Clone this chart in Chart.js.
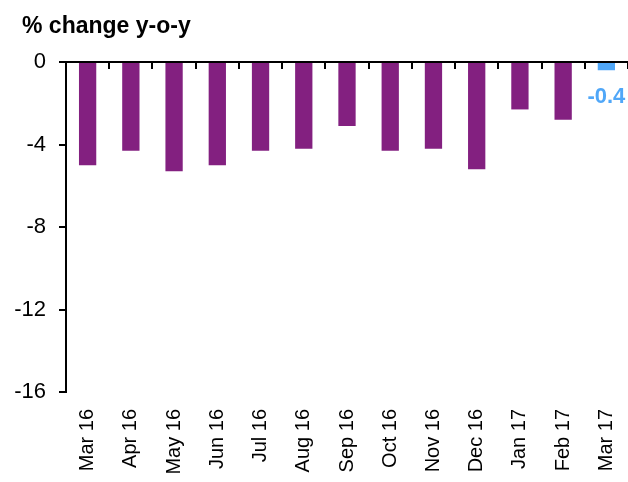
<!DOCTYPE html>
<html>
<head>
<meta charset="utf-8">
<script src="https://cdn.jsdelivr.net/npm/chart.js@4"></script>
<style>
  html, body { margin: 0; padding: 0; background: #ffffff; }
  #wrap { width: 628px; height: 482px; position: relative; }
</style>
</head>
<body>
<div id="wrap"><canvas id="c"></canvas></div>
<script>
const categories = ["Mar 16", "Apr 16", "May 16", "Jun 16", "Jul 16", "Aug 16", "Sep 16", "Oct 16", "Nov 16", "Dec 16", "Jan 17", "Feb 17", "Mar 17"];
const values = [-5.0, -4.3, -5.3, -5.0, -4.3, -4.2, -3.1, -4.3, -4.2, -5.2, -2.3, -2.8, -0.4];
const yTicks = [0, -4, -8, -12, -16];
const titleText = "% change y-o-y";
const highlightIndex = values.length - 1;

const PURPLE = "#832080";
const BLUE = "#50a7f8";
const FONT = "Arial, 'Liberation Sans', sans-serif";

const barColors = values.map((v, i) => i === highlightIndex ? BLUE : PURPLE);

const valueLabelPlugin = {
  id: "valueLabel",
  afterDatasetsDraw(chart) {
    const meta = chart.getDatasetMeta(0);
    const el = meta.data[highlightIndex];
    if (!el) return;
    const ctx = chart.ctx;
    ctx.save();
    ctx.font = "bold 22px " + FONT;
    ctx.fillStyle = BLUE;
    ctx.textAlign = "center";
    ctx.textBaseline = "middle";
    ctx.fillText(values[highlightIndex].toFixed(1), el.x, el.y + 27);
    ctx.restore();
  }
};

const titlePlugin = {
  id: "leftTitle",
  afterDraw(chart) {
    const ctx = chart.ctx;
    ctx.save();
    ctx.font = "bold 23px " + FONT;
    ctx.fillStyle = "#000";
    ctx.textAlign = "left";
    ctx.textBaseline = "alphabetic";
    ctx.fillText(titleText, 22, 33);
    ctx.restore();
  }
};

new Chart(document.getElementById("c"), {
  type: "bar",
  data: {
    labels: categories,
    datasets: [{
      data: values,
      backgroundColor: barColors,
      borderWidth: 0,
      categoryPercentage: 1.0,
      barPercentage: 0.4
    }]
  },
  options: {
    responsive: true,
    maintainAspectRatio: false,
    animation: false,
    layout: { padding: { left: 0, right: 0, top: 62, bottom: 0 } },
    plugins: {
      legend: { display: false },
      tooltip: { enabled: false },
      title: { display: false }
    },
    scales: {
      x: {
        type: "category",
        position: "bottom",
        offset: true,
        grid: { display: false },
        border: { display: false },
        ticks: {
          color: "#000",
          font: { family: FONT, size: 20 },
          minRotation: 90,
          maxRotation: 90,
          autoSkip: false,
          padding: 9
        },
        afterFit(scale) {
          scale.height = 90;
          scale.paddingLeft = 0;
          scale.paddingRight = 0;
        }
      },
      x2: {
        type: "category",
        axis: "x",
        position: { y: 0 },
        offset: true,
        grid: {
          display: true,
          offset: true,
          drawOnChartArea: false,
          drawTicks: true,
          tickLength: 6,
          color: "#000",
          lineWidth: 2
        },
        border: { display: true, color: "#000", width: 2 },
        ticks: { display: false },
        afterFit(scale) {
          scale.paddingLeft = 0;
          scale.paddingRight = 0;
        }
      },
      y: {
        min: -16,
        max: 0,
        afterBuildTicks(scale) { scale.ticks = yTicks.map(v => ({ value: v })); },
        grid: {
          display: true,
          drawOnChartArea: false,
          drawTicks: true,
          tickLength: 7,
          color: "#000",
          lineWidth: 2
        },
        border: { display: true, color: "#000", width: 2 },
        ticks: {
          color: "#000",
          font: { family: FONT, size: 22 },
          padding: 13
        },
        afterFit(scale) { scale.width = 66; }
      }
    }
  },
  plugins: [valueLabelPlugin, titlePlugin]
});
</script>
</body>
</html>
